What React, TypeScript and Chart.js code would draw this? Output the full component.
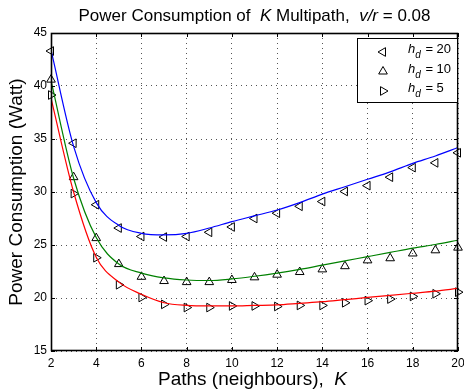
import React, { useEffect, useRef } from "react";
import { Chart, registerables } from "chart.js";

Chart.register(...registerables);

const K = [2, 3, 4, 5, 6, 7, 8, 9, 10, 11, 12, 13, 14, 15, 16, 17, 18, 19, 20];

const sim20 = [43.3, 34.6, 28.8, 26.6, 25.8, 25.75, 25.8, 26.2, 26.7, 27.5, 28.0, 28.65, 29.1, 30.05, 30.6, 31.4, 32.3, 32.75, 33.7];
const sim10 = [40.6, 31.4, 25.65, 23.2, 22.0, 21.6, 21.5, 21.5, 21.7, 21.95, 22.2, 22.45, 22.7, 23.0, 23.55, 23.75, 24.2, 24.5, 24.75];
const sim5 = [39.15, 29.85, 23.8, 21.25, 20.05, 19.4, 19.1, 19.1, 19.25, 19.25, 19.2, 19.3, 19.3, 19.55, 19.75, 19.9, 20.15, 20.4, 20.55];

const model20 = [43.4, 34.3, 29.0, 26.85, 26.1, 25.95, 26.1, 26.6, 27.2, 27.75, 28.3, 29.0, 29.8, 30.5, 31.2, 31.9, 32.7, 33.4, 34.2];
const model10 = [40.5, 31.3, 25.7, 23.2, 22.35, 21.9, 21.7, 21.65, 21.8, 22.05, 22.35, 22.7, 23.1, 23.5, 23.9, 24.3, 24.7, 25.05, 25.45];
const model5 = [38.85, 30.0, 23.85, 21.5, 20.35, 19.55, 19.3, 19.25, 19.25, 19.3, 19.35, 19.5, 19.65, 19.85, 20.05, 20.25, 20.45, 20.65, 20.9];

const xTicks = [2, 4, 6, 8, 10, 12, 14, 16, 18, 20];
const yTicks = [15, 20, 25, 30, 35, 40, 45];
const legendValues = ["20", "10", "5"];
const legendRotations = [-90, 0, 90];

const FONT = "'Liberation Sans', Arial, Helvetica, sans-serif";

function pts(ys: number[]) {
  return K.map((k, i) => ({ x: k, y: ys[i] }));
}

function drawTri(ctx: CanvasRenderingContext2D, x: number, y: number, r: number, rotDeg: number) {
  let rad = (rotDeg * Math.PI) / 180;
  ctx.beginPath();
  for (let i = 0; i < 3; i++) {
    const px = x + Math.sin(rad) * r;
    const py = y - Math.cos(rad) * r;
    if (i === 0) ctx.moveTo(px, py);
    else ctx.lineTo(px, py);
    rad += (2 * Math.PI) / 3;
  }
  ctx.closePath();
  ctx.stroke();
}

function drawSegments(
  ctx: CanvasRenderingContext2D,
  segs: { t: string; it?: boolean }[],
  size: number,
  cx: number,
  y: number
) {
  let total = 0;
  const widths = segs.map((s) => {
    ctx.font = `${s.it ? "italic " : ""}${size}px ${FONT}`;
    const w = ctx.measureText(s.t).width;
    total += w;
    return w;
  });
  let x = cx - total / 2;
  segs.forEach((s, i) => {
    ctx.font = `${s.it ? "italic " : ""}${size}px ${FONT}`;
    ctx.fillText(s.t, x, y);
    x += widths[i];
  });
}

const decorPlugin = {
  id: "decor",
  afterDraw(chart: any) {
    const ctx: CanvasRenderingContext2D = chart.ctx;
    const { left, right, top, bottom } = chart.chartArea;
    const xs = chart.scales.x;
    const ys = chart.scales.y;
    ctx.save();
    // frame
    ctx.strokeStyle = "#000";
    ctx.lineWidth = 1.6;
    ctx.strokeRect(Math.round(left) + 0.5, Math.round(top) + 0.5, Math.round(right - left) - 1, Math.round(bottom - top) - 1);
    // inner ticks
    ctx.lineWidth = 1;
    const tl = 4;
    ctx.beginPath();
    xTicks.forEach((v) => {
      const px = Math.round(xs.getPixelForValue(v)) + 0.5;
      ctx.moveTo(px, bottom);
      ctx.lineTo(px, bottom - tl);
      ctx.moveTo(px, top);
      ctx.lineTo(px, top + tl);
    });
    yTicks.forEach((v) => {
      const py = Math.round(ys.getPixelForValue(v)) + 0.5;
      ctx.moveTo(left, py);
      ctx.lineTo(left + tl, py);
      ctx.moveTo(right, py);
      ctx.lineTo(right - tl, py);
    });
    ctx.stroke();

    ctx.fillStyle = "#000";
    ctx.textBaseline = "alphabetic";
    ctx.textAlign = "left";
    const cx = (left + right) / 2;
    // title
    drawSegments(
      ctx,
      [
        { t: "Power Consumption of  " },
        { t: "K", it: true },
        { t: " Multipath,  " },
        { t: "v/r", it: true },
        { t: " = 0.08" },
      ],
      17,
      cx,
      21
    );
    // x label
    drawSegments(ctx, [{ t: "Paths (neighbours),  " }, { t: "K", it: true }], 19, cx - 2, 385);
    // y label
    ctx.save();
    ctx.translate(22, (top + bottom) / 2);
    ctx.rotate(-Math.PI / 2);
    drawSegments(ctx, [{ t: "Power Consumption (Watt)" }], 19, 0, 0);
    ctx.restore();

    // legend
    const bx = 357.5, by = 38.5, bw = 100, bh = 64;
    ctx.fillStyle = "#fff";
    ctx.fillRect(bx, by, bw, bh);
    ctx.strokeStyle = "#000";
    ctx.lineWidth = 1;
    ctx.strokeRect(bx, by, bw, bh);
    ctx.fillStyle = "#000";
    const rowsY = [52, 71.5, 91];
    legendValues.forEach((val, i) => {
      const ry = rowsY[i];
      drawTri(ctx, 383, ry, 5, legendRotations[i]);
      let x = 408;
      ctx.font = `italic 13px ${FONT}`;
      ctx.fillText("h", x, ry + 1);
      x += ctx.measureText("h").width;
      ctx.font = `italic 10px ${FONT}`;
      ctx.fillText("d", x, ry + 6);
      x += ctx.measureText("d").width + 1;
      ctx.font = `13px ${FONT}`;
      ctx.fillText(" = " + val, x, ry + 1);
    });
    ctx.restore();
  },
};

export default function App() {
  const ref = useRef<HTMLCanvasElement | null>(null);

  useEffect(() => {
    document.body.style.margin = "0";
    const canvas = ref.current!;
    const lineDs = (data: number[], color: string) => ({
      data: pts(data),
      showLine: true,
      borderColor: color,
      backgroundColor: color,
      borderWidth: 1.2,
      pointRadius: 0,
      cubicInterpolationMode: "monotone" as const,
      clip: 0,
    });
    const markDs = (data: number[], rot: number) => ({
      data: pts(data),
      showLine: false,
      borderColor: "#000",
      backgroundColor: "rgba(0,0,0,0)",
      borderWidth: 1,
      pointStyle: "triangle",
      pointRotation: rot,
      pointRadius: 5,
      clip: false,
    });
    const chart = new Chart(canvas, {
      type: "line",
      data: {
        datasets: [
          lineDs(model20, "#0000ff"),
          lineDs(model10, "#008000"),
          lineDs(model5, "#ff0000"),
          markDs(sim20, -90),
          markDs(sim10, 0),
          markDs(sim5, 90),
        ] as any,
      },
      options: {
        responsive: false,
        animation: false,
        events: [],
        layout: { padding: { left: 0, top: 33, right: 5, bottom: 0 } },
        plugins: { legend: { display: false }, title: { display: false }, tooltip: { enabled: false } },
        scales: {
          x: {
            type: "linear",
            min: 2,
            max: 20,
            afterBuildTicks: (s: any) => {
              s.ticks = xTicks.map((v) => ({ value: v }));
            },
            afterFit: (s: any) => {
              s.height = 41;
              s.paddingLeft = 0;
              s.paddingRight = 0;
            },
            grid: { color: "#555", lineWidth: 1, drawTicks: false },
            border: { display: false, dash: [1, 4] },
            ticks: { color: "#000", padding: 5, font: { family: FONT, size: 12 }, maxRotation: 0, autoSkip: false },
          },
          y: {
            type: "linear",
            min: 15,
            max: 45,
            afterBuildTicks: (s: any) => {
              s.ticks = yTicks.map((v) => ({ value: v }));
            },
            afterFit: (s: any) => {
              s.width = 51;
              s.paddingTop = 0;
              s.paddingBottom = 0;
            },
            grid: { color: "#555", lineWidth: 1, drawTicks: false },
            border: { display: false, dash: [1, 4] },
            ticks: { color: "#000", padding: 4, font: { family: FONT, size: 12 }, autoSkip: false },
          },
        },
      },
      plugins: [decorPlugin],
    });
    return () => chart.destroy();
  }, []);

  return (
    <div style={{ position: "absolute", left: 0, top: 0, width: 464, height: 392, background: "#fff" }}>
      <canvas ref={ref} width={464} height={392} style={{ display: "block", width: 464, height: 392 }} />
    </div>
  );
}
